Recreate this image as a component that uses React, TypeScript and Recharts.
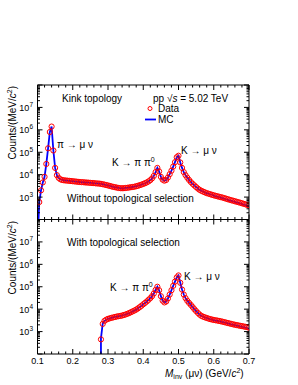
import React from 'react';
import { ComposedChart, Line, Scatter, XAxis, YAxis } from 'recharts';

// ---------- data ----------
const massTop = [
  0.103, 0.105, 0.11, 0.115, 0.12, 0.125, 0.13, 0.135, 0.14, 0.145,
  0.15, 0.155, 0.16, 0.165, 0.17, 0.175, 0.18, 0.185, 0.19, 0.195,
  0.2, 0.205, 0.21, 0.215, 0.22, 0.225, 0.23, 0.235, 0.24, 0.245,
  0.25, 0.255, 0.26, 0.265, 0.27, 0.275, 0.28, 0.285, 0.29, 0.295,
  0.3, 0.305, 0.31, 0.315, 0.32, 0.325, 0.33, 0.335, 0.34, 0.345,
  0.35, 0.355, 0.36, 0.365, 0.37, 0.375, 0.38, 0.385, 0.39, 0.395,
  0.4, 0.405, 0.41, 0.415, 0.42, 0.425, 0.43, 0.435, 0.44, 0.445,
  0.45, 0.455, 0.46, 0.465, 0.47, 0.475, 0.48, 0.485, 0.49, 0.495,
  0.5, 0.505, 0.51, 0.515, 0.52, 0.525, 0.53, 0.535, 0.54, 0.545,
  0.55, 0.555, 0.56, 0.565, 0.57, 0.575, 0.58, 0.585, 0.59, 0.595,
  0.6, 0.605, 0.61, 0.615, 0.62, 0.625, 0.63, 0.635, 0.64, 0.645,
  0.65, 0.655, 0.66, 0.665, 0.67, 0.675, 0.68, 0.685, 0.69, 0.695,
  0.7,
];
const dataTop = [
  null, 600, 2000, 4500, 8000, 30000, 150000, 800000, 1400000, 120000,
  20000, 9500, 7200, 6200, 5800, 5600, 5500, 5400, 5300, 5200,
  5100, 5000, 4900, 4800, 4700, 4650, 4600, 4500, 4450, 4400,
  4300, 4250, 4200, 4100, 4050, 4000, 3900, 3750, 3600, 3450,
  3300, 3150, 3000, 2850, 2750, 2650, 2550, 2500, 2480, 2500,
  2550, 2600, 2680, 2750, 2820, 2900, 3050, 3200, 3400, 3600,
  3850, 4150, 4500, 5000, 5700, 6800, 8800, 13000, 20000, 14000,
  8000, 6000, 5400, 5800, 7500, 10500, 15000, 23000, 36000, 60000,
  70000, 35000, 20000, 13000, 9500, 7300, 5800, 4700, 3900, 3300,
  2800, 2400, 2100, 1900, 1750, 1620, 1500, 1420, 1340, 1270,
  1200, 1140, 1090, 1040, 990, 950, 900, 850, 800, 760,
  720, 690, 650, 620, 590, 560, 530, 500, 475, 450,
  420,
];
const mcTop = [
  100, 600, 2000, 4500, 8000, 30000, 150000, 800000, 1400000, 120000,
  20000, 9500, 7200, 6200, 5800, 5600, 5500, 5400, 5300, 5200,
  5100, 5000, 4900, 4800, 4700, 4650, 4600, 4500, 4450, 4400,
  4300, 4250, 4200, 4100, 4050, 4000, 3900, 3750, 3600, 3450,
  3300, 3150, 3000, 2850, 2750, 2650, 2550, 2500, 2480, 2500,
  2550, 2600, 2680, 2750, 2820, 2900, 3050, 3200, 3400, 3600,
  3850, 4150, 4500, 5000, 5700, 6800, 8800, 13000, 20000, 14000,
  8000, 6000, 5400, 5800, 7500, 10500, 15000, 23000, 36000, 60000,
  70000, 35000, 20000, 13000, 9500, 7300, 5800, 4700, 3900, 3300,
  2800, 2400, 2100, 1900, 1750, 1620, 1500, 1420, 1340, 1270,
  1150, 1090, 1040, 990, 945, 900, 850, 800, 755, 715,
  680, 645, 610, 580, 550, 520, 490, 465, 440, 410,
  370,
];

const massBottom = [
  0.28, 0.28, 0.285, 0.29, 0.295,
  0.3, 0.305, 0.31, 0.315, 0.32, 0.325, 0.33, 0.335, 0.34, 0.345,
  0.35, 0.355, 0.36, 0.365, 0.37, 0.375, 0.38, 0.385, 0.39, 0.395,
  0.4, 0.405, 0.41, 0.415, 0.42, 0.425, 0.43, 0.435, 0.44, 0.445,
  0.45, 0.455, 0.46, 0.465, 0.47, 0.475, 0.48, 0.485, 0.49, 0.495,
  0.5, 0.505, 0.51, 0.515, 0.52, 0.525, 0.53, 0.535, 0.54, 0.545,
  0.55, 0.555, 0.56, 0.565, 0.57, 0.575, 0.58, 0.585, 0.59, 0.595,
  0.6, 0.605, 0.61, 0.615, 0.62, 0.625, 0.63, 0.635, 0.64, 0.645,
  0.65, 0.655, 0.66, 0.665, 0.67, 0.675, 0.68, 0.685, 0.69, 0.695,
  0.7,
];
const dataBottom = [
  null, 450, 2200, 3000, 3400,
  3700, 3900, 4100, 4300, 4500, 4700, 4850, 5000, 5200, 5500,
  5800, 6200, 6700, 7300, 8000, 8700, 9600, 10800, 12300, 14200,
  16500, 19000, 22000, 26000, 31000, 38000, 50000, 72000, 100000, 70000,
  38000, 24000, 20000, 22000, 30000, 45000, 70000, 110000, 170000, 260000,
  320000, 150000, 75000, 45000, 31000, 23500, 19000, 15500, 12500, 10000,
  8200, 6800, 5700, 5000, 4600, 4300, 4050, 3800, 3600, 3450,
  3300, 3200, 3100, 3000, 2880, 2760, 2640, 2520, 2400, 2300,
  2200, 2100, 2020, 1950, 1880, 1810, 1750, 1690, 1630, 1570,
  1500,
];
const mcBottom = [
  100, 500, 2300, 3000, 3400,
  3700, 3900, 4100, 4300, 4500, 4700, 4850, 5000, 5200, 5500,
  5800, 6200, 6700, 7300, 8000, 8700, 9600, 10800, 12300, 14200,
  16500, 19000, 22000, 26000, 31000, 38000, 50000, 72000, 100000, 70000,
  38000, 24000, 20000, 22000, 30000, 45000, 70000, 110000, 170000, 260000,
  320000, 150000, 75000, 45000, 31000, 23500, 19000, 15500, 12500, 10000,
  8200, 6800, 5700, 5000, 4600, 4300, 4050, 3800, 3600, 3450,
  3200, 3100, 3000, 2900, 2780, 2660, 2550, 2430, 2320, 2220,
  2120, 2030, 1940, 1860, 1780, 1720, 1640, 1580, 1500, 1420,
  1250,
];

const xTicks = [
  0.1, 0.12, 0.14, 0.16, 0.18, 0.2, 0.22, 0.24, 0.26, 0.28, 0.3,
  0.32, 0.34, 0.36, 0.38, 0.4, 0.42, 0.44, 0.46, 0.48, 0.5,
  0.52, 0.54, 0.56, 0.58, 0.6, 0.62, 0.64, 0.66, 0.68, 0.7,
];
const xTickLabels = ['0.1', '0.2', '0.3', '0.4', '0.5', '0.6', '0.7'];
const yTicks = [
  100, 200, 300, 400, 500, 600, 700, 800, 900,
  1e3, 2e3, 3e3, 4e3, 5e3, 6e3, 7e3, 8e3, 9e3,
  1e4, 2e4, 3e4, 4e4, 5e4, 6e4, 7e4, 8e4, 9e4,
  1e5, 2e5, 3e5, 4e5, 5e5, 6e5, 7e5, 8e5, 9e5,
  1e6, 2e6, 3e6, 4e6, 5e6, 6e6, 7e6, 8e6, 9e6,
  1e7, 2e7, 3e7, 4e7, 5e7, 6e7, 7e7, 8e7, 9e7,
  1e8,
];
const yLabelExponents = [3, 4, 5, 6, 7];

// ---------- styles ----------
const F = "'Liberation Sans', Arial, Helvetica, sans-serif";
const RED = '#ff0000';
const BLUE = '#0000ff';
const AX = '#000000';

const rowsTop = massTop.map((x, i) => ({ x, data: dataTop[i], mc: mcTop[i] }));
const rowsBottom = massBottom.map((x, i) => ({ x, data: dataBottom[i], mc: mcBottom[i] }));
const ptsTop = rowsTop.filter((r) => r.data != null);
const ptsBottom = rowsBottom.filter((r) => r.data != null);

const isMajorX = (v: number) => Math.abs(v * 10 - Math.round(v * 10)) < 1e-6;
const isMajorY = (v: number) => {
  const l = Math.log10(v);
  return Math.abs(l - Math.round(l)) < 1e-6;
};

const BottomTick = (labels: boolean) => (p: any) => {
  const { x, y, payload } = p;
  const v = payload.value;
  const major = isMajorX(v);
  const lbl = v.toFixed(1);
  return (
    <g>
      <line x1={x} y1={y} x2={x} y2={y - (major ? 5 : 2.5)} stroke={AX} strokeWidth={1} />
      {labels && major && xTickLabels.includes(lbl) ? (
        <text x={x} y={y + 9.5} textAnchor="middle" fontSize={9} fontFamily={F} fill="#000">
          {lbl}
        </text>
      ) : null}
    </g>
  );
};
const TopTick = (p: any) => {
  const { x, y, payload } = p;
  const major = isMajorX(payload.value);
  return <line x1={x} y1={y} x2={x} y2={y + (major ? 5 : 2.5)} stroke={AX} strokeWidth={1} />;
};
const LeftTick = (p: any) => {
  const { x, y, payload } = p;
  const v = payload.value;
  const major = isMajorY(v);
  const e = Math.round(Math.log10(v));
  return (
    <g>
      <line x1={x} y1={y} x2={x + (major ? 5 : 2.5)} y2={y} stroke={AX} strokeWidth={1} />
      {major && yLabelExponents.includes(e) ? (
        <text x={x - 4.5} y={y + 3.5} textAnchor="end" fontSize={9} fontFamily={F} fill="#000">
          10<tspan dy={-4} fontSize={6.5}>{e}</tspan>
        </text>
      ) : null}
    </g>
  );
};
const RightTick = (p: any) => {
  const { x, y, payload } = p;
  const major = isMajorY(payload.value);
  return <line x1={x} y1={y} x2={x - (major ? 5 : 2.5)} y2={y} stroke={AX} strokeWidth={1} />;
};

const DataShape = (p: any) => {
  const { cx, cy } = p;
  if (cx == null || cy == null || Number.isNaN(cx) || Number.isNaN(cy)) return <g />;
  return <circle cx={cx} cy={cy} r={2.6} fill="none" stroke={RED} strokeWidth={1} />;
};

function Panel({ rows, pts, height, margin, labels }: any) {
  return (
    <ComposedChart width={298} height={height} data={rows} margin={margin}>
      <XAxis
        xAxisId="b" dataKey="x" type="number" domain={[0.1, 0.7]} ticks={xTicks} interval={0}
        allowDataOverflow height={1} tickSize={0} tickMargin={0}
        axisLine={{ stroke: AX, strokeWidth: 1 }} tickLine={false} tick={BottomTick(labels)}
      />
      <XAxis
        xAxisId="t" orientation="top" dataKey="x" type="number" domain={[0.1, 0.7]} ticks={xTicks}
        interval={0} allowDataOverflow height={1} tickSize={0} tickMargin={0}
        axisLine={{ stroke: AX, strokeWidth: 1 }} tickLine={false} tick={TopTick}
      />
      <YAxis
        yAxisId="l" dataKey="data" type="number" scale="log" domain={[100, 1e8]} ticks={yTicks} interval={0}
        allowDataOverflow width={1} tickSize={0} tickMargin={0}
        axisLine={{ stroke: AX, strokeWidth: 1 }} tickLine={false} tick={LeftTick}
      />
      <YAxis
        yAxisId="r" orientation="right" type="number" scale="log" domain={[100, 1e8]} ticks={yTicks}
        interval={0} allowDataOverflow width={1} tickSize={0} tickMargin={0}
        axisLine={{ stroke: AX, strokeWidth: 1 }} tickLine={false} tick={RightTick}
      />
      <Scatter
        xAxisId="b" yAxisId="l" data={pts} dataKey="data" shape={DataShape}
        isAnimationActive={false} legendType="none"
      />
      <Line
        xAxisId="b" yAxisId="l" dataKey="mc" type="linear" stroke={BLUE} strokeWidth={1.8}
        dot={false} activeDot={false} isAnimationActive={false} legendType="none"
      />
    </ComposedChart>
  );
}

export default function App() {
  const T = { fontFamily: F, fontSize: 10, fill: '#000' } as any;
  return (
    <div style={{ position: 'absolute', left: 0, top: 0, width: 298, height: 385, background: '#fff' }}>
      <div style={{ position: 'absolute', left: 0, top: 0 }}>
        <Panel rows={rowsTop} pts={ptsTop} height={230} margin={{ top: 84, right: 48, bottom: 9.5, left: 36.5 }} labels={false} />
      </div>
      <div style={{ position: 'absolute', left: 0, top: 0 }}>
        <Panel rows={rowsBottom} pts={ptsBottom} height={385} margin={{ top: 218.5, right: 48, bottom: 30, left: 36.5 }} labels={true} />
      </div>
      <svg width={298} height={385} style={{ position: 'absolute', left: 0, top: 0, pointerEvents: 'none' }}>
        <text {...T} x={16} y={86} textAnchor="end" transform="rotate(-90 16 86)">
          Counts/(MeV/<tspan fontStyle="italic">c</tspan><tspan dy={-4} fontSize={7}>2</tspan><tspan dy={4}>)</tspan>
        </text>
        <text {...T} x={16} y={221} textAnchor="end" transform="rotate(-90 16 221)">
          Counts/(MeV/<tspan fontStyle="italic">c</tspan><tspan dy={-4} fontSize={7}>2</tspan><tspan dy={4}>)</tspan>
        </text>
        <text {...T} x={62} y={101.5}>Kink topology</text>
        <text {...T} x={153} y={101.5}>
          pp √<tspan fontStyle="italic">s</tspan> = 5.02 TeV
        </text>
        <circle cx={150} cy={108.5} r={2} fill="none" stroke={RED} strokeWidth={1} />
        <text {...T} x={158} y={112}>Data</text>
        <line x1={145} y1={119.5} x2={156} y2={119.5} stroke={BLUE} strokeWidth={1.8} />
        <text {...T} x={158} y={123}>MC</text>
        <text {...T} x={57} y={147.5}>π → μ ν</text>
        <text {...T} x={112} y={165.5}>K → π π<tspan dy={-4} fontSize={7}>0</tspan></text>
        <text {...T} x={181} y={153.5}>K → μ ν</text>
        <text {...T} x={67} y={201.5}>Without topological selection</text>
        <text {...T} x={67} y={245.5}>With topological selection</text>
        <text {...T} x={110} y={291}>K → π π<tspan dy={-4} fontSize={7}>0</tspan></text>
        <text {...T} x={184} y={279.5}>K → μ ν</text>
        <text {...T} x={165} y={376.5}>
          <tspan fontStyle="italic">M</tspan><tspan dy={2} fontSize={7}>inv</tspan><tspan dy={-2}> (μν) (GeV/</tspan><tspan fontStyle="italic">c</tspan><tspan dy={-4} fontSize={7}>2</tspan><tspan dy={4}>)</tspan>
        </text>
      </svg>
    </div>
  );
}
